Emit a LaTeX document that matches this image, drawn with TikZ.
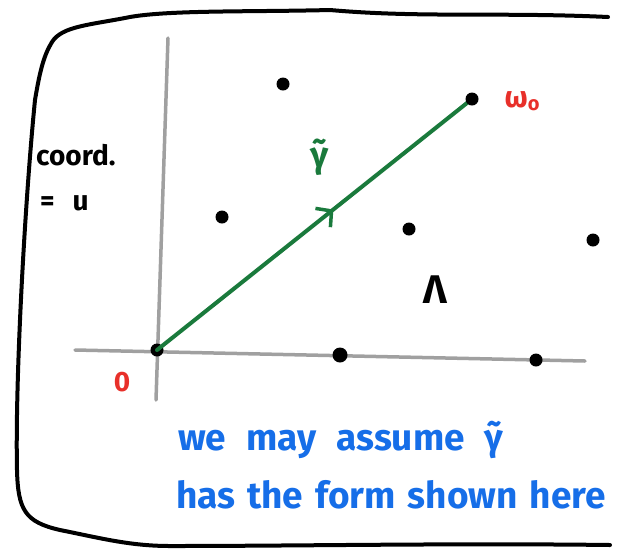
\documentclass[tikz,border=0pt]{standalone}
\usepackage{fontspec}
\setmainfont{Fira Sans}
\usetikzlibrary{arrows.meta,decorations.markings}
\definecolor{pengreen}{RGB}{26,122,60}
\definecolor{penred}{RGB}{232,48,42}
\definecolor{penblue}{RGB}{22,110,232}
\definecolor{axisgray}{RGB}{160,160,160}
\tikzset{
  pt/.style={circle,fill=black,inner sep=0pt,minimum size=13pt},
  axisline/.style={draw=axisgray,line width=3.5pt,line cap=round},
  frameline/.style={draw=black,line width=4pt,line cap=round,line join=round},
  vecline/.style={draw=pengreen,line width=4pt,line cap=round,
    postaction={decorate},
    decoration={markings,mark=at position 0.56 with {\arrow[pengreen,line width=3.5pt]{Straight Barb[length=11pt,width=24pt]}}}},
  hand/.style={font=\bfseries\fontsize{#1}{#1}\selectfont,inner sep=0pt},
}
\begin{document}
\begin{tikzpicture}[x=1pt,y=-1pt]
\useasboundingbox (0,0) rectangle (626,558);
% frame
\draw[frameline] (608,17) .. controls (500,12) and (420,18) .. (330,10)
  .. controls (250,12) and (170,10) .. (130,17)
  .. controls (90,25) and (62,26) .. (52,42)
  .. controls (44,55) and (40,70) .. (35,100)
  .. controls (25,200) and (15,380) .. (17,470)
  .. controls (18,510) and (25,522) .. (60,530)
  .. controls (100,538) and (130,546) .. (170,546)
  .. controls (300,546) and (450,543) .. (610,545);
% axes
\coordinate (ytop) at (168,38);
\coordinate (ybot) at (156,400);
\coordinate (xl) at (75,350);
\coordinate (xr) at (585,361);
\draw[axisline] (ytop) -- (ybot);
\draw[axisline] (xl) -- (xr);
% lattice points
\node[pt] (o) at (157,350) {};
\node[pt] (p1) at (283,84) {};
\node[pt] (p2) at (222,217) {};
\node[pt] (p3) at (409,229) {};
\node[pt] (p4) at (593,240) {};
\node[pt,minimum size=15pt] (p5) at (340,355) {};
\node[pt] (p6) at (536,360) {};
% vector
\draw[vecline] (o.center) -- (472,99) node[pt] (w) {};
% labels
\node[hand=36,text=pengreen] (g) at (320,157) {\~{γ}};
\node[hand=30,text=penred] (wl) at (522,101) {ω\raisebox{-3pt}{\fontsize{20}{20}\selectfont o}};
\node[hand=40] (lam) at (435,290) {Λ};
\node[hand=28,text=penred] (zero) at (122,382) {0};
\node[hand=28,anchor=west] (c1) at (36,155) {coord.};
\node[hand=28,anchor=west] (c2) at (40,203) {=\hspace{18pt}u};
\node[hand=37,text=penblue,anchor=west] (t1) at (178,440) {\spaceskip=20pt we may assume \~{γ}};
\node[hand=37,text=penblue,anchor=west] (t2) at (176,495) {\spaceskip=12pt has the form shown here};
\end{tikzpicture}
\end{document}
